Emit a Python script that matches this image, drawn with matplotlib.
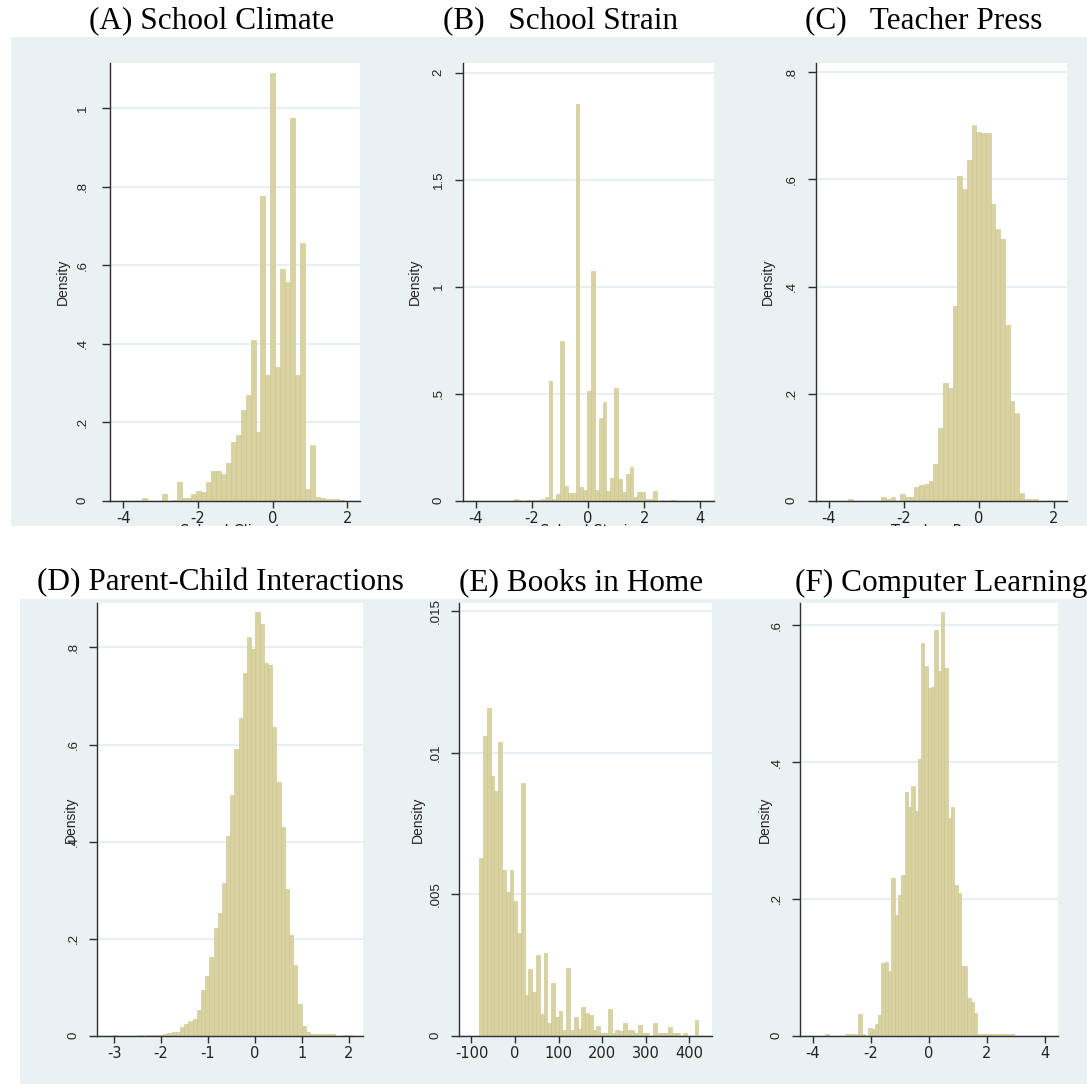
import numpy as np
import matplotlib
matplotlib.use("Agg")
import matplotlib.pyplot as plt
from matplotlib.patches import Rectangle

# ---------------- data: histogram densities (equal-width bins) ----------------
climate_start, climate_width = -3.495, 0.132
climate_density = [0.008, 0, 0, 0, 0.017, 0, 0.003, 0.047, 0.006, 0.008,
                   0.018, 0.025, 0.022, 0.047, 0.075, 0.075, 0.068, 0.095, 0.15, 0.167,
                   0.232, 0.27, 0.41, 0.175, 0.777, 0.32, 1.09, 0.34, 0.59, 0.558,
                   0.975, 0.32, 0.657, 0.03, 0.142, 0.01, 0.008, 0.005, 0.004, 0.004,
                   0.003]

strain_start, strain_width = -2.652, 0.1377
strain_density = [0.006, 0.005, 0, 0.005, 0.005, 0.005, 0.005, 0.01, 0.015, 0.558,
                  0.01, 0.03, 0.746, 0.068, 0.034, 0.037, 1.853, 0.065, 0.05, 0.514,
                  1.075, 0.05, 0.385, 0.463, 0.045, 0.104, 0.528, 0.1, 0.042, 0.123,
                  0.159, 0.019, 0.042, 0.042, 0.006, 0.006, 0.045, 0, 0.005, 0,
                  0.005, 0.005]

press_start, press_width = -3.50, 0.127
press_density = [0.004, 0, 0, 0, 0, 0, 0, 0.0075, 0.004, 0.006,
                 0, 0.012, 0.006, 0.0075, 0.025, 0.03, 0.032, 0.037, 0.068, 0.136,
                 0.22, 0.21, 0.363, 0.607, 0.583, 0.636, 0.702, 0.689, 0.687, 0.687,
                 0.555, 0.507, 0.489, 0.329, 0.186, 0.164, 0.014, 0.004, 0.003, 0.003]

parent_start, parent_width = -3.023, 0.0892
parent_density = [0.002, 0, 0, 0, 0, 0, 0.002, 0, 0.002, 0.002,
                  0.002, 0.002, 0.003, 0.006, 0.007, 0.007, 0.018, 0.025, 0.03, 0.035,
                  0.052, 0.095, 0.122, 0.163, 0.221, 0.253, 0.315, 0.412, 0.497, 0.59,
                  0.655, 0.747, 0.821, 0.797, 0.874, 0.848, 0.767, 0.763, 0.637, 0.523,
                  0.431, 0.302, 0.208, 0.146, 0.065, 0.02, 0.007, 0.003, 0.003, 0.003,
                  0.003, 0.003, 0.003, 0, 0, 0.002, 0.002]

books_start, books_width = -82.0, 8.68
books_density = [0.00627, 0.0106, 0.01159, 0.00918, 0.00866, 0.01037, 0.00585, 0.00509, 0.00585, 0.00476,
                 0.00362, 0.00894, 0.00144, 0.00234, 0.00155, 0.00285, 0.00075, 0.00293, 0.00046, 0.00185,
                 0.00067, 0.00088, 0.0002, 0.00238, 0.0002, 0.00067, 0.00025, 0.001, 0.0008, 0.00073,
                 0.0002, 0.00034, 0.0001, 0.0001, 0.00093, 0.0001, 0.0002, 0.00015, 0.00044, 0.0002,
                 0.0002, 0.0001, 0.00038, 0.0001, 0.0001, 0, 0.00044, 0.0001, 0.0001, 0.0001,
                 0.0003, 0.0001, 0.0001, 0, 0.0001, 0, 0, 0.00055]

computer_start, computer_width = -3.573, 0.1139
computer_density = [0.002, 0, 0, 0, 0, 0, 0.002, 0.002, 0.002, 0.002,
                    0.0317, 0.002, 0, 0.0107, 0.0095, 0.017, 0.0297, 0.106, 0.107, 0.095,
                    0.23, 0.177, 0.205, 0.235, 0.356, 0.334, 0.365, 0.329, 0.405, 0.574,
                    0.54, 0.508, 0.51, 0.593, 0.533, 0.62, 0.537, 0.318, 0.335, 0.22,
                    0.209, 0.102, 0.102, 0.0555, 0.0497, 0.0326, 0.002, 0.002, 0.002, 0.002,
                    0.002, 0.002, 0.002, 0.002, 0.002, 0.002, 0.002]

# ---------------- labels ----------------
titles = ["(A) School Climate", "(B)   School Strain", "(C)   Teacher Press",
          "(D) Parent-Child Interactions", "(E) Books in Home", "(F) Computer Learning"]
x_names = ["School Climate", "School Strain", "Teacher Press"]

xticks_a = [-4, -2, 0, 2]
xticks_b = [-4, -2, 0, 2, 4]
xticks_c = [-4, -2, 0, 2]
xticks_d = [-3, -2, -1, 0, 1, 2]
xticks_e = [-100, 0, 100, 200, 300, 400]
xticks_f = [-4, -2, 0, 2, 4]

yticks_a = [0, 0.2, 0.4, 0.6, 0.8, 1.0]
ylabels_a = ["0", ".2", ".4", ".6", ".8", "1"]
yticks_b = [0, 0.5, 1.0, 1.5, 2.0]
ylabels_b = ["0", ".5", "1", "1.5", "2"]
yticks_c = [0, 0.2, 0.4, 0.6, 0.8]
ylabels_c = ["0", ".2", ".4", ".6", ".8"]
yticks_d = [0, 0.2, 0.4, 0.6, 0.8]
ylabels_d = ["0", ".2", ".4", ".6", ".8"]
yticks_e = [0, 0.005, 0.01, 0.015]
ylabels_e = ["0", ".005", ".01", ".015"]
yticks_f = [0, 0.2, 0.4, 0.6]
ylabels_f = ["0", ".2", ".4", ".6"]

# ---------------- styling ----------------
W, H, DPI = 1087, 1086, 100
BAND = "#e9f1f3"
GRID = "#e6eef1"
BAR = "#d8d2a0"
EDGE = "#cbc48f"
AXIS = "#2e2e2e"
SERIF = "Liberation Serif"
SANS = "Liberation Sans"
WIDE = "DejaVu Sans"

fig = plt.figure(figsize=(W / DPI, H / DPI), dpi=DPI)
fig.patch.set_facecolor("white")


def fx(px):
    return px / W


def fy(py):
    return 1 - py / H


# light background bands behind each row of panels
fig.add_artist(Rectangle((fx(11), fy(526)), fx(W) - fx(11), fy(37) - fy(526),
                         transform=fig.transFigure, facecolor=BAND, edgecolor="none", zorder=-5))
fig.add_artist(Rectangle((fx(20), fy(1084)), fx(W) - fx(20), fy(599) - fy(1084),
                         transform=fig.transFigure, facecolor=BAND, edgecolor="none", zorder=-5))

# pixel boxes (left, top, right, bottom), axis ranges, label offsets
layout = [
    dict(box=(110, 63.3, 360, 500.7), xlim=(-4.357, 2.339), ytop=1.114, ypad=10, lab_dx=-47.5),
    dict(box=(463.3, 63.3, 714, 500.7), xlim=(-4.451, 4.487), ytop=2.044, ypad=8, lab_dx=-48),
    dict(box=(816, 63.3, 1066.7, 500.7), xlim=(-4.347, 2.338), ytop=0.817, ypad=8, lab_dx=-48.5),
    dict(box=(96.7, 603.3, 363, 1035.7), xlim=(-3.369, 2.30), ytop=0.891, ypad=7, lab_dx=-25.7),
    dict(box=(459, 603.3, 711.7, 1035.7), xlim=(-128.6, 451.8), ytop=0.01528, ypad=7, lab_dx=-41),
    dict(box=(800, 603.3, 1058.3, 1035.7), xlim=(-4.443, 4.455), ytop=0.632, ypad=7, lab_dx=-35.5),
]

series = [
    (climate_start, climate_width, climate_density, xticks_a, yticks_a, ylabels_a),
    (strain_start, strain_width, strain_density, xticks_b, yticks_b, ylabels_b),
    (press_start, press_width, press_density, xticks_c, yticks_c, ylabels_c),
    (parent_start, parent_width, parent_density, xticks_d, yticks_d, ylabels_d),
    (books_start, books_width, books_density, xticks_e, yticks_e, ylabels_e),
    (computer_start, computer_width, computer_density, xticks_f, yticks_f, ylabels_f),
]

axes = []
for spec, (start, width, dens, xt, yt, yl) in zip(layout, series):
    l, t, r, b = spec["box"]
    ax = fig.add_axes([fx(l), fy(b), fx(r) - fx(l), fy(t) - fy(b)])
    ax.set_facecolor("white")
    lefts = start + width * np.arange(len(dens))
    ax.bar(lefts, dens, width=width, align="edge", color=BAR,
           edgecolor=EDGE, linewidth=0.4, zorder=2)
    ax.set_xlim(*spec["xlim"])
    ax.set_ylim(0, spec["ytop"])
    ax.set_xticks(xt)
    ax.set_xticklabels([str(v) for v in xt], fontfamily=WIDE, fontsize=10.5, color="#222222")
    ax.set_yticks(yt)
    ax.set_yticklabels(yl, fontfamily=SANS, fontsize=9.5, color="#222222",
                       rotation=90, va="center")
    ax.tick_params(axis="x", direction="out", length=5, width=1, color=AXIS, pad=2.5)
    ax.tick_params(axis="y", direction="out", length=5.5, width=1, color=AXIS, pad=spec["ypad"])
    for s in ("top", "right"):
        ax.spines[s].set_visible(False)
    for s in ("left", "bottom"):
        ax.spines[s].set_color(AXIS)
        ax.spines[s].set_linewidth(1.0)
    ax.set_axisbelow(True)
    ax.yaxis.grid(True, color=GRID, linewidth=1.3)
    ax.xaxis.grid(False)
    ax.set_ylabel("Density", fontfamily=SANS, fontsize=10, color="#222222")
    ax.yaxis.set_label_coords(spec["lab_dx"] / (r - l), 0.5)
    ax.yaxis.label.set_va("center")
    axes.append(ax)

# axis titles of the top row, trimmed by the white strip below the band
for ax, name in zip(axes[:3], x_names):
    pos = ax.get_position()
    fig.text(pos.x0 + pos.width / 2, fy(523.5), name, ha="center", va="top",
             fontfamily=WIDE, fontsize=10.5, color="#222222", zorder=3)
fig.add_artist(Rectangle((0, fy(566)), 1, fy(526) - fy(566), transform=fig.transFigure,
                         facecolor="white", edgecolor="none", zorder=4))

# panel headings
title_pos = [(212, 21, "center"), (561, 21, "center"), (924, 21, "center"),
             (220, 583, "center"), (581, 583, "center"), (795, 583, "left")]
for (x, y, ha), txt in zip(title_pos, titles):
    fig.text(fx(x), fy(y), txt, ha=ha, va="center", fontfamily=SERIF,
             fontsize=22.5, color="black", zorder=6)

fig.savefig("out.png", dpi=DPI, facecolor="white")
